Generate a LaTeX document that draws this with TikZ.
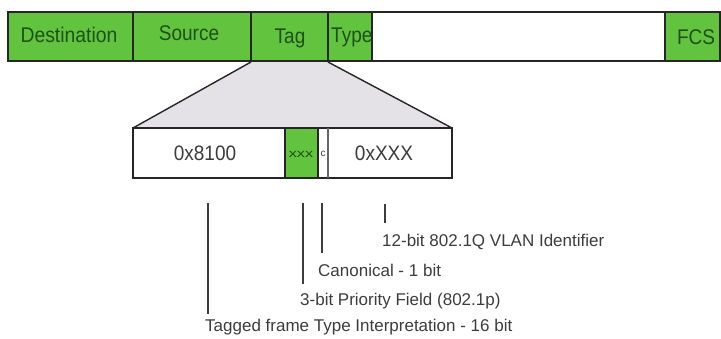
\documentclass[tikz,border=0pt]{standalone}
\usepackage{fontspec}
\setmainfont{Liberation Sans}
\definecolor{fgreen}{RGB}{98,196,62}
\definecolor{tgreen}{RGB}{30,80,25}
\definecolor{lgray}{RGB}{60,60,60}
\definecolor{trap}{RGB}{228,226,230}
\begin{document}
\begin{tikzpicture}[x=1pt,y=-1pt,
  gbox/.style={fill=fgreen,draw=black!85,line width=1.6pt},
  wbox/.style={fill=white,draw=black!85,line width=1.6pt},
  gtext/.style={text=tgreen,font=\fontsize{19}{19}\selectfont,inner sep=0pt},
  ftext/.style={text=lgray,font=\fontsize{19}{19}\selectfont,inner sep=0pt},
  ltext/.style={text=lgray,font=\fontsize{17}{17}\selectfont,inner sep=0pt,anchor=west},
  tick/.style={draw=lgray,line width=1.5pt}]
\useasboundingbox (0,0) rectangle (721,338);
% top frame
\draw[wbox] (372,12) rectangle (665,61);
\draw[gbox] (8,12) rectangle (133,61);
\draw[gbox] (133,12) rectangle (251,61);
\draw[gbox] (251,12) rectangle (328,61);
\draw[gbox] (328,12) rectangle (372,61);
\draw[gbox] (665,12) rectangle (720,61);
\node[gtext] (dest) at (69,35) {\scalebox{1.02}[1.12]{Destination}};
\node[gtext] (src) at (189,33) {\scalebox{1}[1.12]{Source}};
\node[gtext] (tag) at (290,38) {\scalebox{1}[1.12]{Tag}};
\begin{scope}
\clip (329,13) rectangle (371,60);
\node[gtext,anchor=west] (type) at (331,37) {\scalebox{1}[1.12]{Type}};
\end{scope}
\node[gtext] (fcs) at (696,37) {\scalebox{1}[1.12]{FCS}};
% trapezoid
\coordinate (tl) at (251,62);
\coordinate (tr) at (328,62);
\coordinate (bl) at (133,128);
\coordinate (br) at (452,128);
\fill[trap] (tl) -- (tr) -- (br) -- (bl) -- cycle;
\draw[black!85,line width=1.4pt] (tl) -- (bl) (tr) -- (br);
% tag box
\draw[wbox,line width=1.4pt] (133,128) rectangle (452,178);
\draw[fill=fgreen,draw=black!85,line width=1.4pt] (285,128) rectangle (318,178);
\draw[draw=black!60,line width=1.3pt] (328,128) -- (328,178);
\node[ftext] (tpid) at (205,153) {\scalebox{1}[1.1]{0x8100}};
\node[text=tgreen,font=\fontsize{13}{13}\selectfont,inner sep=0pt] (pri) at (301,154) {\scalebox{1.25}[0.9]{xxx}};
\node[text=lgray,font=\fontsize{10}{10}\selectfont,inner sep=0pt] (cfi) at (323,154) {c};
\node[ftext] (vid) at (384,153) {\scalebox{1}[1.1]{0xXXX}};
% leader ticks
\coordinate (t1a) at (208,203); \coordinate (t1b) at (208,314);
\coordinate (t2a) at (303,203); \coordinate (t2b) at (303,284);
\coordinate (t3a) at (322,203); \coordinate (t3b) at (322,253);
\coordinate (t4a) at (385,204); \coordinate (t4b) at (385,223);
\draw[tick] (t1a) -- (t1b);
\draw[tick] (t2a) -- (t2b);
\draw[tick] (t3a) -- (t3b);
\draw[tick] (t4a) -- (t4b);
\node[ltext] (l4) at (382,242) {12-bit 802.1Q VLAN Identifier};
\node[ltext] (l3) at (318,270) {Canonical - 1 bit};
\node[ltext] (l2) at (300,301) {3-bit Priority Field (802.1p)};
\node[ltext] (l1) at (205,327) {Tagged frame Type Interpretation - 16 bit};
\end{tikzpicture}
\end{document}
